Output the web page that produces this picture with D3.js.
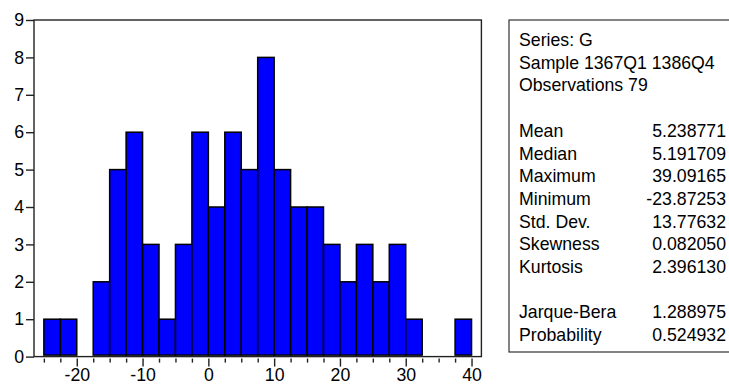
<!DOCTYPE html>
<html>
<head>
<meta charset="utf-8">
<script src="https://cdn.jsdelivr.net/npm/d3@7"></script>
<style>
  html, body { margin: 0; padding: 0; background: #fff; }
  svg { display: block; font-family: Arial, "Liberation Sans", sans-serif; }
</style>
</head>
<body>
<svg id="chart" width="729" height="387"></svg>
<script>
// ---- data ----
const binStarts = [-25, -22.5, -20, -17.5, -15, -12.5, -10, -7.5, -5, -2.5, 0, 2.5, 5, 7.5, 10, 12.5, 15, 17.5, 20, 22.5, 25, 27.5, 30, 32.5, 35, 37.5];
const counts    = [1, 1, 0, 2, 5, 6, 3, 1, 3, 6, 4, 6, 5, 8, 5, 4, 4, 3, 2, 3, 2, 3, 1, 0, 0, 1];
const binWidth = 2.5;
const xTickLabels = [-20, -10, 0, 10, 20, 30, 40];
const yTickLabels = [0, 1, 2, 3, 4, 5, 6, 7, 8, 9];
const headerLines = ["Series: G", "Sample 1367Q1 1386Q4", "Observations 79"];
const statNames  = ["Mean", "Median", "Maximum", "Minimum", "Std. Dev.", "Skewness", "Kurtosis", "", "Jarque-Bera", "Probability"];
const statValues = ["5.238771", "5.191709", "39.09165", "-23.87253", "13.77632", "0.082050", "2.396130", "", "1.288975", "0.524932"];

// ---- layout ----
const svg = d3.select("#chart");
const pLeft = 34, pRight = 481.4, pTop = 20, pBottom = 356.6;
const x = d3.scaleLinear().domain([-26.5, 41.5]).range([pLeft, pRight]);
const y = d3.scaleLinear().domain([0, 9]).range([pBottom, pTop]);
const fontSize = 17.7;
const ff = "Arial, 'Liberation Sans', sans-serif";

// bars
svg.append("g").selectAll("rect")
  .data(binStarts.map((s, i) => ({ s, c: counts[i] })).filter(d => d.c > 0))
  .join("rect")
  .attr("x", d => x(d.s))
  .attr("width", d => x(d.s + binWidth) - x(d.s))
  .attr("y", d => y(d.c))
  .attr("height", d => y(0) - y(d.c) - 1.5)
  .attr("fill", "#0000ff")
  .attr("stroke", "#000")
  .attr("stroke-width", 1.5);

// frame
svg.append("rect")
  .attr("x", pLeft).attr("y", pTop)
  .attr("width", pRight - pLeft).attr("height", pBottom - pTop)
  .attr("fill", "none").attr("stroke", "#222").attr("stroke-width", 1.4);

// y axis
const yAxis = d3.axisLeft(y).tickValues(yTickLabels).tickSize(8).tickPadding(2).tickFormat(d => String(d));
const gy = svg.append("g").attr("transform", `translate(${pLeft},0)`).call(yAxis);
gy.select(".domain").remove();
gy.selectAll("line").attr("stroke", "#222").attr("stroke-width", 1.4);
gy.selectAll("text").attr("font-size", fontSize).attr("fill", "#000").attr("font-family", ff);

// x axis (minor ticks every 2.5, major labeled every 10)
const minorTicks = d3.range(binStarts[0], binStarts[binStarts.length - 1] + binWidth + 0.01, binWidth)
  .filter(v => !xTickLabels.includes(v));
const gxMinor = svg.append("g").attr("transform", `translate(0,${pBottom + 2})`)
  .call(d3.axisBottom(x).tickValues(minorTicks).tickSize(4).tickFormat(""));
gxMinor.select(".domain").remove();
gxMinor.selectAll("line").attr("stroke", "#222").attr("stroke-width", 1.4);

const gx = svg.append("g").attr("transform", `translate(0,${pBottom + 2})`)
  .call(d3.axisBottom(x).tickValues(xTickLabels).tickSize(8).tickPadding(2).tickFormat(d => String(d)));
gx.select(".domain").remove();
gx.selectAll("line").attr("stroke", "#222").attr("stroke-width", 1.4);
gx.selectAll("text").attr("font-size", fontSize).attr("fill", "#000").attr("font-family", ff);

// stats box
const box = svg.append("g").attr("font-family", ff);
box.append("rect")
  .attr("x", 509).attr("y", 20).attr("width", 240).attr("height", 332)
  .attr("fill", "#fff").attr("stroke", "#333").attr("stroke-width", 1.2);

const rowH = 22.7, firstBase = 46;
headerLines.forEach((t, i) => {
  box.append("text").attr("x", 519).attr("y", firstBase + i * rowH)
    .attr("font-size", fontSize).attr("fill", "#000").text(t);
});
statNames.forEach((t, i) => {
  if (!t) return;
  const yy = firstBase + (i + 4) * rowH;
  box.append("text").attr("x", 519).attr("y", yy)
    .attr("font-size", fontSize).attr("fill", "#000").text(t);
  box.append("text").attr("x", 726).attr("y", yy).attr("text-anchor", "end")
    .attr("font-size", fontSize).attr("fill", "#000").text(statValues[i]);
});
</script>
</body>
</html>
